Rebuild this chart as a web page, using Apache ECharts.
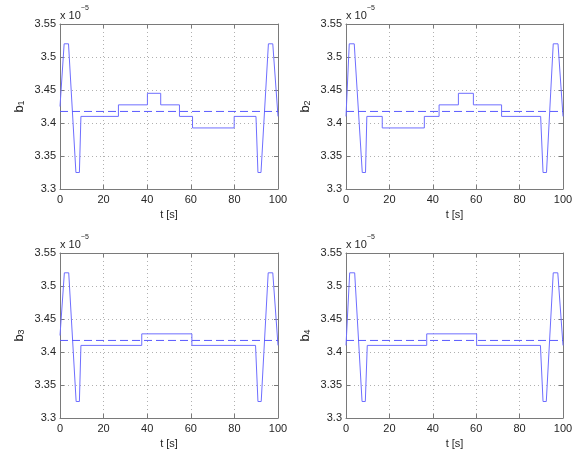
<!DOCTYPE html>
<html>
<head>
<meta charset="utf-8">
<script src="https://cdn.jsdelivr.net/npm/echarts@6/dist/echarts.min.js"></script>
<style>html,body{margin:0;padding:0;background:#fff}#c{width:577px;height:450px}</style>
</head>
<body>
<div id="c"></div>
<script>
// ---- data (values in units of 1e-5) ----
const xTicks = [0, 20, 40, 60, 80, 100];
const yTicks = [3.3, 3.35, 3.4, 3.45, 3.5, 3.55];
const panelNames = ['1', '2', '3', '4'];
const meanLevel = [3.4175, 3.4175, 3.4175, 3.4175];

const b1_t = [0, 1.9, 3.9, 7.3, 8.9, 9.6, 26.8, 26.8, 40.1, 40.1, 46.2, 46.2, 54.8, 54.8, 60.8, 60.8, 79.9, 79.9, 89.9, 90.8, 92.2, 95.6, 97.6, 100];
const b1_v = [3.425, 3.52, 3.52, 3.325, 3.325, 3.41, 3.41, 3.4275, 3.4275, 3.445, 3.445, 3.4275, 3.4275, 3.41, 3.41, 3.3925, 3.3925, 3.41, 3.41, 3.325, 3.325, 3.52, 3.52, 3.41];

const b2_t = [0, 1.5, 3.8, 7.5, 9.0, 9.6, 16.7, 16.7, 36.1, 36.1, 42.9, 42.9, 51.8, 51.8, 58.7, 58.7, 71.7, 71.7, 89.7, 90.8, 92.4, 95.5, 97.7, 100];
const b2_v = [3.41, 3.52, 3.52, 3.325, 3.325, 3.41, 3.41, 3.3925, 3.3925, 3.41, 3.41, 3.4275, 3.4275, 3.445, 3.445, 3.4275, 3.4275, 3.41, 3.41, 3.325, 3.325, 3.52, 3.52, 3.41];

const b3_t = [0, 2.0, 4.0, 7.4, 8.9, 9.6, 37.5, 37.5, 60.5, 60.5, 89.7, 90.8, 92.3, 95.5, 97.6, 100];
const b3_v = [3.425, 3.52, 3.52, 3.325, 3.325, 3.41, 3.41, 3.4275, 3.4275, 3.41, 3.41, 3.325, 3.325, 3.52, 3.52, 3.41];

const b4_t = [0, 1.7, 4.0, 7.4, 8.9, 9.8, 37.2, 37.2, 60.2, 60.2, 89.6, 90.8, 92.3, 95.5, 97.6, 100];
const b4_v = [3.41, 3.52, 3.52, 3.325, 3.325, 3.41, 3.41, 3.4275, 3.4275, 3.41, 3.41, 3.325, 3.325, 3.52, 3.52, 3.41];

const seriesT = [b1_t, b2_t, b3_t, b4_t];
const seriesV = [b1_v, b2_v, b3_v, b4_v];

// ---- layout ----
const grids = [
  {left: 60, top: 24, width: 218, height: 165},
  {left: 346, top: 24, width: 217, height: 165},
  {left: 60, top: 253, width: 218, height: 165},
  {left: 346, top: 253, width: 217, height: 165}
];
const FONT = 'Liberation Sans, Arial, Helvetica, sans-serif';
const TXT = '#262626';
const BOX = '#7a7a7a';
const LINE = '#6e6eff';

const xAxis = [], yAxis = [], series = [], graphic = [];
grids.forEach((g, i) => {
  xAxis.push({
    type: 'value', gridIndex: i, min: xTicks[0], max: xTicks[xTicks.length - 1], interval: 20,
    position: 'bottom',
    axisLine: {show: true, onZero: false, lineStyle: {color: BOX, width: 1}},
    axisTick: {show: true, inside: true, length: 4, lineStyle: {color: BOX}},
    axisLabel: {color: TXT, fontSize: 11, fontFamily: FONT, margin: 5},
    splitLine: {show: true, lineStyle: {color: '#b0b0b0', type: [1, 3], width: 1}},
    name: 't [s]', nameLocation: 'middle', nameGap: 20,
    nameTextStyle: {color: TXT, fontSize: 11, fontFamily: FONT}
  });
  xAxis.push({
    type: 'value', gridIndex: i, min: 0, max: 100, interval: 20, position: 'top',
    axisLine: {show: true, onZero: false, lineStyle: {color: BOX, width: 1}},
    axisTick: {show: true, inside: true, length: 4, lineStyle: {color: BOX}},
    axisLabel: {show: false}, splitLine: {show: false}
  });
  yAxis.push({
    type: 'value', gridIndex: i, min: yTicks[0], max: yTicks[yTicks.length - 1], interval: 0.05,
    position: 'left',
    axisLine: {show: true, onZero: false, lineStyle: {color: BOX, width: 1}},
    axisTick: {show: true, inside: true, length: 4, lineStyle: {color: BOX}},
    axisLabel: {color: TXT, fontSize: 11, fontFamily: FONT, margin: 4,
      formatter: v => String(+v.toFixed(2))},
    splitLine: {show: true, lineStyle: {color: '#b0b0b0', type: [1, 3], width: 1}},
    name: '{b|b}{s|' + panelNames[i] + '}', nameLocation: 'middle', nameGap: 34, nameRotate: 90,
    nameTextStyle: {
      color: TXT, fontFamily: FONT,
      rich: {
        b: {fontSize: 13, color: TXT, fontFamily: FONT, verticalAlign: 'bottom', lineHeight: 18},
        s: {fontSize: 9, color: TXT, fontFamily: FONT, verticalAlign: 'bottom', lineHeight: 12}
      }
    }
  });
  yAxis.push({
    type: 'value', gridIndex: i, min: 3.3, max: 3.55, interval: 0.05, position: 'right',
    axisLine: {show: true, onZero: false, lineStyle: {color: BOX, width: 1}},
    axisTick: {show: true, inside: true, length: 4, lineStyle: {color: BOX}},
    axisLabel: {show: false}, splitLine: {show: false}
  });
  series.push({
    type: 'line', xAxisIndex: 2 * i, yAxisIndex: 2 * i,
    data: seriesT[i].map((t, k) => [t, seriesV[i][k]]),
    showSymbol: false, symbol: 'none', animation: false,
    lineStyle: {color: LINE, width: 1}
  });
  series.push({
    type: 'line', xAxisIndex: 2 * i, yAxisIndex: 2 * i,
    data: [[xTicks[0], meanLevel[i]], [xTicks[xTicks.length - 1], meanLevel[i]]],
    showSymbol: false, symbol: 'none', animation: false,
    lineStyle: {color: '#5a5aff', width: 1, type: [8, 4]}
  });
  graphic.push({
    type: 'text', left: g.left, top: g.top - 19,
    style: {
      text: '{a|x 10}{e|−5}',
      rich: {
        a: {fontSize: 11, fill: TXT, fontFamily: FONT, verticalAlign: 'bottom', lineHeight: 16},
        e: {fontSize: 7, fill: TXT, fontFamily: FONT, verticalAlign: 'top', lineHeight: 16}
      }
    }
  });
});

const chart = echarts.init(document.getElementById('c'), null, {renderer: 'canvas'});
chart.setOption({
  animation: false,
  backgroundColor: '#fff',
  grid: grids.map(g => Object.assign({containLabel: false}, g)),
  xAxis, yAxis, series, graphic
});
</script>
</body>
</html>
